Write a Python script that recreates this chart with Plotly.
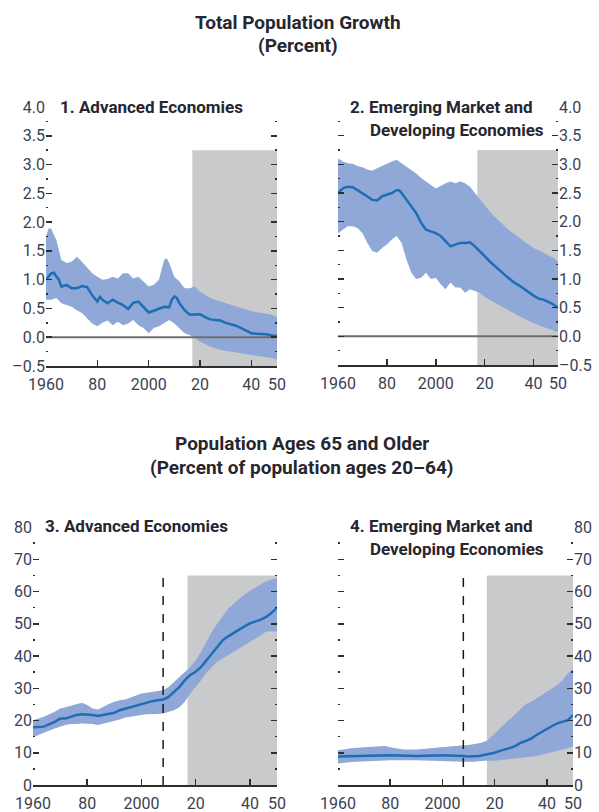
import plotly.graph_objects as go

# ---------------- DATA ----------------
# Panel 1: Advanced Economies, total population growth (percent)
p1_med_years = [1960,1962,1963,1965,1966,1968,1970,1972,1974,1976,1978,1980,1981,1982,1984,1986,1988,1990,1992,1994,1996,1998,2000,2002,2004,2006,2008,2009,2010,2011,2012,2014,2016,2018,2020,2022,2024,2026,2028,2030,2032,2034,2036,2038,2040,2042,2044,2046,2048,2050]
p1_med = [1.00,1.11,1.12,1.00,0.88,0.91,0.85,0.85,0.89,0.87,0.73,0.62,0.70,0.65,0.59,0.65,0.60,0.56,0.49,0.60,0.62,0.53,0.43,0.46,0.50,0.53,0.52,0.65,0.71,0.68,0.59,0.47,0.39,0.40,0.40,0.35,0.31,0.30,0.29,0.25,0.23,0.20,0.16,0.12,0.07,0.06,0.06,0.05,0.03,0.02]
p1_hi_years = [1960,1961,1962,1964,1966,1968,1970,1972,1974,1976,1978,1980,1982,1984,1986,1988,1990,1992,1994,1996,1998,2000,2002,2004,2006,2007,2008,2010,2012,2014,2016,2018,2020,2024,2028,2032,2036,2040,2044,2048,2050]
p1_hi = [1.75,1.89,1.89,1.69,1.34,1.29,1.31,1.40,1.31,1.20,1.11,1.05,1.00,1.01,1.05,1.02,1.11,1.11,1.02,1.05,0.97,0.88,0.91,1.00,1.34,1.37,1.29,1.05,0.97,0.85,0.85,0.88,0.79,0.68,0.62,0.56,0.50,0.45,0.42,0.39,0.35]
p1_lo_years = [1960,1962,1964,1966,1968,1970,1972,1974,1976,1978,1980,1982,1984,1986,1988,1990,1992,1994,1996,1998,2000,2002,2004,2006,2008,2010,2012,2014,2016,2018,2020,2024,2028,2032,2036,2040,2044,2048,2050]
p1_lo = [0.65,0.65,0.68,0.59,0.56,0.53,0.47,0.42,0.33,0.24,0.19,0.25,0.29,0.21,0.27,0.21,0.24,0.30,0.21,0.16,0.07,0.16,0.19,0.24,0.30,0.24,0.16,0.07,0.04,-0.02,-0.08,-0.16,-0.22,-0.25,-0.28,-0.31,-0.34,-0.36,-0.39]

# Panel 2: Emerging Market and Developing Economies, total population growth
p2_med_years = [1960,1962,1964,1966,1968,1970,1972,1974,1976,1978,1980,1982,1984,1985,1986,1988,1990,1992,1994,1996,1998,2000,2002,2004,2006,2008,2010,2012,2014,2016,2018,2020,2022,2024,2026,2028,2030,2032,2034,2036,2038,2040,2042,2044,2046,2048,2050]
p2_med = [2.50,2.58,2.61,2.60,2.55,2.50,2.44,2.38,2.37,2.44,2.47,2.50,2.55,2.55,2.50,2.38,2.27,2.15,1.98,1.86,1.83,1.80,1.75,1.66,1.57,1.60,1.63,1.63,1.64,1.57,1.49,1.40,1.31,1.23,1.16,1.08,1.01,0.94,0.89,0.83,0.76,0.71,0.66,0.64,0.60,0.56,0.50]
p2_hi_years = [1960,1962,1964,1966,1968,1970,1972,1974,1976,1978,1980,1982,1984,1986,1988,1990,1992,1994,1996,1998,2000,2002,2004,2006,2008,2010,2012,2014,2016,2018,2020,2022,2024,2026,2028,2030,2032,2034,2036,2038,2040,2042,2044,2046,2048,2050]
p2_hi = [3.10,3.05,3.02,3.01,2.97,2.95,2.91,2.89,2.93,2.97,3.02,3.05,3.08,3.02,2.95,2.90,2.84,2.76,2.70,2.64,2.58,2.62,2.67,2.70,2.67,2.70,2.67,2.61,2.50,2.38,2.27,2.18,2.09,2.01,1.92,1.85,1.79,1.72,1.66,1.60,1.54,1.50,1.46,1.41,1.37,1.31]
p2_lo_years = [1960,1962,1964,1966,1968,1970,1972,1974,1976,1978,1980,1982,1984,1986,1988,1990,1992,1994,1996,1998,2000,2002,2004,2006,2008,2010,2012,2014,2016,2018,2020,2024,2028,2032,2036,2040,2044,2048,2050]
p2_lo = [1.80,1.86,1.92,1.92,1.89,1.80,1.63,1.49,1.46,1.54,1.60,1.69,1.75,1.63,1.34,1.11,1.00,1.02,1.11,1.00,1.02,0.91,0.82,0.94,0.85,0.85,0.76,0.82,0.79,0.76,0.69,0.59,0.49,0.40,0.31,0.23,0.16,0.10,0.07]

# Panel 3: Advanced Economies, population ages 65+ (percent of ages 20-64)
p3_years = [1960,1964,1968,1970,1972,1974,1976,1978,1980,1982,1984,1986,1988,1990,1992,1994,1996,1998,2000,2002,2004,2006,2008,2010,2012,2014,2016,2018,2020,2022,2024,2026,2028,2030,2032,2034,2036,2038,2040,2042,2044,2046,2048,2050]
p3_med = [17.9,18.1,19.6,20.6,20.6,21.2,21.7,21.9,21.9,21.7,21.4,21.7,22.2,22.4,23.2,23.7,24.1,24.5,25.1,25.5,26.0,26.3,26.5,27.3,28.9,30.4,32.5,34.1,35.1,36.6,38.7,40.8,42.8,44.9,46.1,47.2,48.2,49.2,50.1,50.6,51.3,52.1,53.4,55.0]
p3_hi = [20.1,21.2,22.7,23.7,24.1,24.5,25.1,25.5,24.8,23.7,23.4,24.3,25.1,25.8,26.3,26.5,27.1,27.9,28.4,28.6,28.9,29.2,29.4,30.4,32.0,33.5,35.1,36.6,38.7,41.3,44.4,47.5,50.1,52.6,54.7,56.2,57.8,59.1,60.2,61.2,62.2,63.2,63.7,64.2]
p3_lo = [14.8,16.2,17.5,18.1,18.6,18.9,18.9,19.1,19.1,18.9,18.6,18.9,19.3,19.9,20.3,20.9,21.2,21.4,21.7,21.9,22.0,22.0,22.2,22.7,23.2,24.1,25.8,28.4,30.4,32.5,34.8,36.6,38.2,39.2,40.2,41.3,42.3,43.3,44.4,45.4,46.4,47.5,47.7,47.5]

# Panel 4: EMDEs, population ages 65+ (percent of ages 20-64)
p4_med_years = [1960,1970,1980,1990,2000,2008,2010,2014,2018,2020,2022,2024,2026,2028,2030,2032,2034,2036,2038,2040,2042,2044,2046,2048,2050]
p4_med = [8.8,9.0,9.2,9.0,9.2,9.0,8.8,9.0,9.6,10.0,10.6,11.0,11.5,12.1,13.1,13.7,14.4,15.5,16.5,17.5,18.3,19.1,19.6,20.1,21.7]
p4_hi_years = [1960,1965,1970,1975,1978,1980,1985,1990,1995,2000,2005,2010,2015,2017,2020,2022,2024,2026,2028,2030,2032,2034,2036,2038,2040,2042,2044,2046,2048,2050]
p4_hi = [10.8,11.4,11.7,11.9,12.1,11.7,11.0,11.0,11.4,11.9,12.1,12.4,13.1,13.7,16.0,17.5,19.1,20.6,22.2,23.7,25.1,25.8,26.8,27.9,28.9,29.9,31.0,32.5,34.6,36.1]
p4_lo_years = [1960,1965,1970,1975,1980,1990,2000,2008,2012,2016,2020,2024,2028,2032,2036,2040,2044,2048,2050]
p4_lo = [6.7,7.1,7.5,7.5,7.7,7.7,7.5,7.2,7.2,7.5,7.5,7.7,8.2,8.6,9.0,9.6,10.6,11.4,11.9]

# Shading / reference markers
projection_start = 2017
projection_end = 2050
shade_top_growth = 3.25
shade_top_old = 65
dashed_year = 2008
dashed_top = 65

x_tickvals = [1960, 1980, 2000, 2020, 2040, 2050]
x_ticktext = ["1960", "80", "2000", "20", "40", "50"]
g_tickvals = [-0.5, 0.0, 0.5, 1.0, 1.5, 2.0, 2.5, 3.0, 3.5, 4.0]
g_ticktext = ["–0.5", "0.0", "0.5", "1.0", "1.5", "2.0", "2.5", "3.0", "3.5", "4.0"]
o_tickvals = [0, 10, 20, 30, 40, 50, 60, 70, 80]
o_ticktext = ["0", "10", "20", "30", "40", "50", "60", "70", "80"]

# ---------------- STYLE ----------------
W, H = 599, 812
FONT = "Roboto, Liberation Sans, sans-serif"
TXT = "#3a3f52"
TITLE = "#26262e"
BAND = "rgb(143,168,216)"
LINE = "#1f6db4"
SHADE = "#c9cacc"
TICKC = "#2e2e2e"

def fx(px):
    return px / W

def fy(py):
    return 1 - py / H

fig = go.Figure()

panels = [
    dict(n=1, med=(p1_med_years, p1_med), hi=(p1_hi_years, p1_hi), lo=(p1_lo_years, p1_lo), kind="g", side="left",
         dom_x=(46, 277), dom_y=(107, 366)),
    dict(n=2, med=(p2_med_years, p2_med), hi=(p2_hi_years, p2_hi), lo=(p2_lo_years, p2_lo), kind="g", side="right",
         dom_x=(338, 558), dom_y=(107, 365)),
    dict(n=3, med=(p3_years, p3_med), hi=(p3_years, p3_hi), lo=(p3_years, p3_lo), kind="o", side="left",
         dom_x=(33, 277), dom_y=(527, 785)),
    dict(n=4, med=(p4_med_years, p4_med), hi=(p4_hi_years, p4_hi), lo=(p4_lo_years, p4_lo), kind="o", side="right",
         dom_x=(338, 573), dom_y=(527, 785)),
]

shapes = []
for p in panels:
    n = p["n"]
    xa = "x" if n == 1 else f"x{n}"
    ya = "y" if n == 1 else f"y{n}"
    hx, hy = p["hi"]
    lx, ly = p["lo"]
    fig.add_trace(go.Scatter(
        x=list(hx) + list(lx)[::-1], y=list(hy) + list(ly)[::-1],
        fill="toself", fillcolor=BAND, line=dict(width=0), mode="lines",
        hoverinfo="skip", showlegend=False, xaxis=xa, yaxis=ya))
    if p["kind"] == "g":
        fig.add_trace(go.Scatter(
            x=[x_tickvals[0], x_tickvals[-1]], y=[0, 0], mode="lines",
            line=dict(color="#6e6e6e", width=2), showlegend=False, hoverinfo="skip",
            xaxis=xa, yaxis=ya))
    mx, my = p["med"]
    fig.add_trace(go.Scatter(x=mx, y=my, mode="lines", line=dict(color=LINE, width=2.5),
                             showlegend=False, xaxis=xa, yaxis=ya))

    if p["kind"] == "g":
        rng = [-0.5, 4.0]
        tv, tt, minor_d, m0 = g_tickvals, g_ticktext, 0.25, -0.5
        stop = shade_top_growth
    else:
        rng = [0, 80]
        tv, tt, minor_d, m0 = o_tickvals, o_ticktext, 5, 0
        stop = shade_top_old
    shapes.append(dict(type="rect", xref=xa, yref=ya, x0=projection_start, x1=projection_end,
                       y0=rng[0], y1=stop, fillcolor=SHADE, line=dict(width=0), layer="below"))
    if p["kind"] == "o":
        shapes.append(dict(type="line", xref=xa, yref=ya, x0=dashed_year, x1=dashed_year,
                           y0=0, y1=dashed_top, line=dict(color="#1a1a1a", width=1.5, dash="dash"),
                           layer="above"))

    xk = "xaxis" if n == 1 else f"xaxis{n}"
    yk = "yaxis" if n == 1 else f"yaxis{n}"
    fig.update_layout(**{
        xk: dict(domain=[fx(p["dom_x"][0]), fx(p["dom_x"][1])], range=[1960, 2050], anchor=ya,
                 automargin=False,
                 tickmode="array", tickvals=x_tickvals, ticktext=x_ticktext,
                 ticks="inside", ticklen=6, tickwidth=1.5, tickcolor=TICKC,
                 showline=True, linecolor=TICKC, linewidth=2, showgrid=False, zeroline=False,
                 ticklabelstandoff=3,
                 tickfont=dict(family=FONT, size=16, color=TXT)),
        yk: dict(domain=[fy(p["dom_y"][1]), fy(p["dom_y"][0])], range=rng, anchor=xa,
                 automargin=False,
                 side=p["side"], tickmode="array", tickvals=tv, ticktext=tt,
                 ticks="inside", ticklen=6, tickwidth=1.5, tickcolor=TICKC, mirror="ticks",
                 showline=False, showgrid=False, zeroline=False,
                 minor=dict(tickmode="linear", tick0=m0, dtick=minor_d, ticks="inside", ticklen=2,
                            tickwidth=1.5, tickcolor=TICKC, showgrid=False),
                 tickfont=dict(family=FONT, size=16, color=TXT)),
    })

def ann(text, x, y, size=17, xanchor="left"):
    return dict(text=text, x=fx(x), y=fy(y), xref="paper", yref="paper", xanchor=xanchor,
                yanchor="middle", showarrow=False,
                font=dict(family=FONT, size=size, color=TITLE, weight="bold"))

annotations = [
    ann("Total Population Growth", 298, 22, 19, "center"),
    ann("(Percent)", 298, 46, 19, "center"),
    ann("Population Ages 65 and Older", 302, 443, 19, "center"),
    ann("(Percent of population ages 20–64)", 302, 467, 19, "center"),
    ann("1. Advanced Economies", 58, 107),
    ann("2. Emerging Market and", 348, 107),
    ann("Developing Economies", 368, 130),
    ann("3. Advanced Economies", 43, 526),
    ann("4. Emerging Market and", 348, 526),
    ann("Developing Economies", 368, 549),
]

fig.update_layout(template="none", width=W, height=H, margin=dict(l=0, r=0, t=0, b=0, pad=0),
                  paper_bgcolor="white", plot_bgcolor="rgba(0,0,0,0)",
                  shapes=shapes, annotations=annotations, showlegend=False)

fig.write_html("out.html", config={"displayModeBar": False, "staticPlot": True},
               post_script="document.body.style.margin='0';document.body.style.padding='0';document.body.style.overflow='hidden';")
